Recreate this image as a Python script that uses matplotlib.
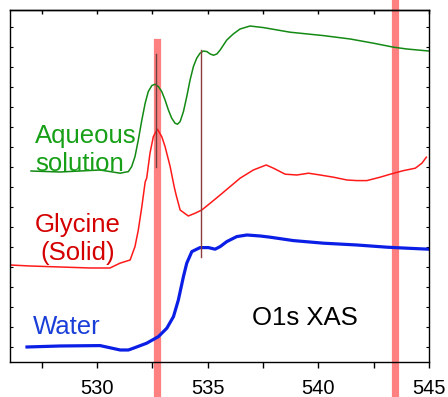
import matplotlib
matplotlib.use('Agg')
import matplotlib.pyplot as plt
from matplotlib.ticker import MultipleLocator
import numpy as np

plt.rcParams['font.family'] = ['Liberation Sans', 'DejaVu Sans']

# O1s XAS spectra, intensity in arbitrary units (curves offset vertically)
aq_e = [527.01, 528.32, 530.13, 531.04, 531.41, 531.56, 531.71, 531.86, 532.02,
        532.17, 532.31, 532.47, 532.62, 532.77, 532.92, 533.07, 533.22, 533.37,
        533.52, 533.63, 533.75, 533.90, 534.05, 534.20, 534.35, 534.50, 534.65,
        534.80, 534.96, 535.11, 535.26, 535.41, 535.56, 535.71, 535.86, 536.15,
        536.46, 536.91, 537.52, 538.72, 540.23, 541.44, 542.49, 543.40, 544.00,
        544.98]
aq_i = [9.55, 9.50, 9.60, 9.44, 9.52, 9.77, 10.27, 11.10, 12.10,
        12.94, 13.52, 13.82, 13.89, 13.77, 13.52, 13.10, 12.60, 12.19,
        11.94, 11.89, 12.02, 12.52, 13.27, 14.10, 14.77, 15.19, 15.44,
        15.55, 15.52, 15.40, 15.34, 15.40, 15.60, 15.85, 16.10, 16.40,
        16.65, 16.80, 16.72, 16.49, 16.32, 16.15, 15.94, 15.74, 15.65,
        15.55]

gly_e = [526.06, 526.96, 528.32, 529.68, 530.58, 531.03, 531.49, 531.71, 531.86,
         532.02, 532.17, 532.24, 532.39, 532.54, 532.72, 532.92, 533.07, 533.30,
         533.48, 533.57, 533.75, 534.12, 534.43, 534.73, 535.11, 535.56, 536.01,
         536.46, 537.06, 537.64, 537.97, 538.50, 539.03, 539.55, 540.08, 540.68,
         541.29, 541.74, 542.19, 542.79, 543.25, 543.85, 544.38, 544.68, 544.88]
gly_i = [4.85, 4.80, 4.75, 4.70, 4.70, 4.94, 5.10, 5.77, 6.60,
         7.77, 9.00, 9.20, 10.45, 11.27, 11.64, 11.27, 10.77, 9.77,
         8.77, 8.35, 7.60, 7.30, 7.44, 7.60, 7.94, 8.35, 8.77,
         9.19, 9.60, 9.85, 9.69, 9.39, 9.35, 9.44, 9.35, 9.24,
         9.10, 9.07, 9.07, 9.24, 9.39, 9.57, 9.69, 9.94, 10.24]

wat_e = [526.83, 528.32, 530.13, 531.04, 531.41, 531.64, 532.24, 532.77, 533.15,
         533.45, 533.67, 533.90, 534.05, 534.28, 534.65, 535.03, 535.33, 535.56,
         535.86, 536.31, 536.77, 537.37, 537.82, 538.87, 540.23, 541.74, 543.10,
         544.00, 544.98]
wat_i = [0.75, 0.80, 0.82, 0.60, 0.60, 0.69, 0.94, 1.27, 1.69,
         2.27, 3.10, 4.27, 4.94, 5.52, 5.72, 5.72, 5.64, 5.77,
         6.02, 6.27, 6.35, 6.30, 6.24, 6.07, 5.94, 5.85, 5.74,
         5.69, 5.64]

# marked energies
band_e = [532.72, 543.48]
peak_e = [532.66, 534.70]

fig = plt.figure(figsize=(4.48, 3.97), dpi=100)
ax = fig.add_axes([0.0223, 0.0882, 0.9353, 0.8866])

ax.plot(aq_e, aq_i, color='#138a13', lw=1.1)
ax.plot(gly_e, gly_i, color='#ff1a1a', lw=1.1)
ax.plot(wat_e, wat_i, color='#0a1ee6', lw=2.3)

# highlight bands, extending past the frame
ax.axvline(band_e[0], ymin=-0.1, ymax=0.909, color='#ff8080', lw=5.2, clip_on=False, zorder=0)
ax.axvline(band_e[1], ymin=-0.1, ymax=1.03, color='#ff8080', lw=5.2, clip_on=False, zorder=0)
ax.axvline(peak_e[0], ymin=0.554, ymax=0.875, color='#6a4040', lw=1.0, zorder=3)
ax.axvline(peak_e[1], ymin=0.298, ymax=0.886, color='#8c3c3c', lw=1.0, zorder=3)

ax.set_xlim(526.06, 545)
ax.set_ylim(0, 17.6)

ax.xaxis.set_major_locator(MultipleLocator(5))
ax.xaxis.set_minor_locator(MultipleLocator(2.5))
ax.tick_params(axis='x', which='both', direction='out', length=4, width=1,
               labelsize=14.5, pad=8, top=False)
top = ax.secondary_xaxis('top')
top.xaxis.set_major_locator(MultipleLocator(5))
top.xaxis.set_minor_locator(MultipleLocator(2.5))
top.tick_params(axis='x', which='both', direction='in', length=3, width=1, labeltop=False)
top.spines['top'].set_linewidth(1)

ax.yaxis.set_major_locator(MultipleLocator(1, offset=0.75))
ax.tick_params(axis='y', which='both', direction='in', length=2.5, width=0.8,
               left=True, right=True, labelleft=False)
for s in ax.spines.values():
    s.set_linewidth(1)

# va='baseline' on multi-line text aligns the last line
ax.text(0.0597, 0.543, 'Aqueous\nsolution', transform=ax.transAxes, color='#17a017',
        fontsize=18.5, ha='left', va='baseline', linespacing=1.2)
ax.text(0.162, 0.29, 'Glycine\n(Solid)', transform=ax.transAxes, color='#d40000',
        fontsize=18.5, ha='center', va='baseline', multialignment='center', linespacing=1.2)
ax.text(0.055, 0.0795, 'Water', transform=ax.transAxes, color='#1a3fd8',
        fontsize=18.5, ha='left', va='baseline')
ax.text(0.578, 0.105, 'O1s XAS', transform=ax.transAxes, color='black',
        fontsize=18.5, ha='left', va='baseline')

fig.savefig('out.png', dpi=100)
